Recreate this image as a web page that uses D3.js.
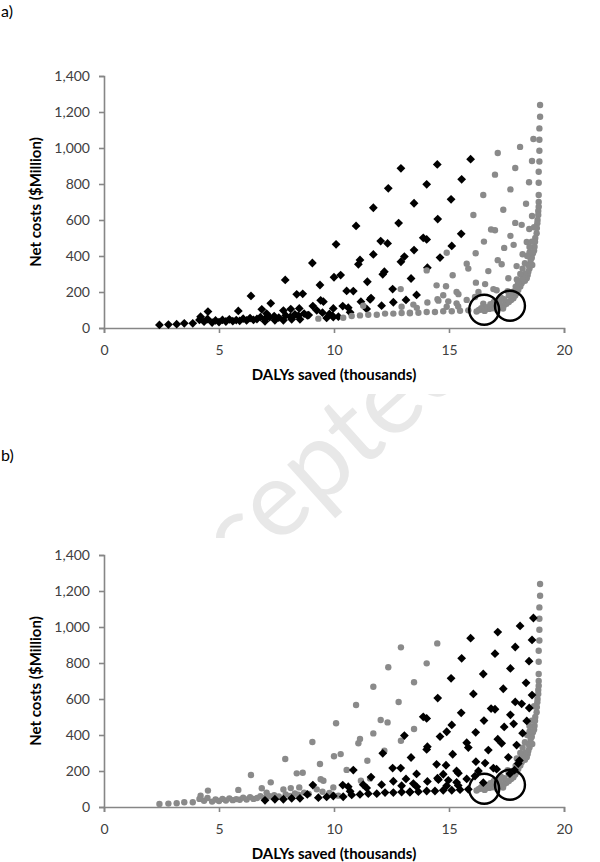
<!DOCTYPE html>
<html>
<head>
<meta charset="utf-8">
<script src="https://cdn.jsdelivr.net/npm/d3@7"></script>
<style>
  body { margin: 0; background: #fff; }
  svg { display: block; }
</style>
</head>
<body>
<svg id="chart" width="600" height="862"></svg>
<script>
const xTicks = [0, 5, 10, 15, 20];
const yTicks = [0, 200, 400, 600, 800, 1000, 1200, 1400];

// black in (a), grey in (b)
const groupL = [
  [12.91,887],[14.49,909],[12.36,776],[14.03,798],[11.71,668],[13.48,693],[10.96,567],[12.81,583],
  [10.09,465],[12.03,483],[12.33,470],[13.48,433],[11.71,409],[12.91,368],[11.13,378],[11.06,354],
  [9.06,361],[12.19,313],[10.0,282],[10.29,294],[11.45,257],[7.88,267],[9.39,239],[10.55,206],
  [8.64,190],[8.38,187],[6.39,178],[11.57,159],[11.17,146],[9.42,154],[9.54,146],[7.25,137],
  [6.86,104],[8.49,109],[8.12,105],[7.8,97],[9.97,109],[9.25,98],[7.07,80],[5.84,95],[4.52,91],
  [4.2,63],[9.94,67],[10.19,63],
  [2.41,17],[2.8,19],[3.16,21],[3.49,26],[3.86,26],
  [4.15,45],[4.35,35],[4.5,50],[4.7,30],[4.85,42],[5.0,33],[5.15,45],[5.3,36],[5.45,48],[5.6,38],
  [5.75,44],[5.9,40],[6.05,52],[6.2,42],[6.35,55],[6.5,45],[6.65,50],[6.8,60],[7.0,52],[7.2,60],
  [7.4,66],[7.6,58],[7.9,70],[8.1,62],[8.3,75],[8.45,68],[8.7,80],[8.9,72],[9.5,85],[9.8,78]
];

// black in both panels
const groupM = [
  [15.94,938],[15.55,826],[15.09,715],[14.51,605],[15.53,523],[13.88,501],[14.03,492],[15.12,456],
  [14.61,391],[13.06,397],[14.06,335],[12.12,298],[13.35,275],[12.55,216],[10.84,205],[13.59,184],
  [13.13,156],[12.58,143],[11.61,166],[12.07,124],[10.38,122],[10.62,113],[11.42,106],[9.08,122],
  [10.7,87],[7.0,37],[7.43,43],[7.8,43],[8.16,48],[8.52,48],[8.84,70],[9.68,56],[9.97,61]
];

// grey in (a), black in (b)
const groupR = [
  [17.12,972],[18.09,1006],[18.67,1050],[17.0,852],[17.88,889],[18.61,928],[16.49,739],[17.67,770],
  [18.48,810],[16.06,628],[17.36,657],[18.35,690],[14.9,418],[16.16,415],[16.83,547],[17.0,543],
  [17.88,584],[18.16,573],[18.61,622],[16.52,480],[17.4,445],[17.67,512],[17.81,462],[18.49,550],
  [18.38,478],[18.2,410],[15.77,357],[15.84,330],[17.12,377],[17.29,354],[17.94,344],[16.71,316],
  [14.03,320],[15.16,293],[17.58,276],[16.17,252],[16.57,244],[14.46,237],[14.87,232],[18.01,241],
  [18.06,258],[15.33,200],[15.41,188],[16.93,216],[17.07,210],[16.28,200],[16.13,172],[17.65,185],
  [17.85,205],[14.5,160],[14.75,182],[16.49,135],[12.9,216],[11.27,124],[12.94,118],[13.3,82],
  [13.45,130],[14.06,142],[14.54,152],[14.97,148],[15.77,156],[15.33,137],
  [9.32,52],[10.4,57],[10.77,67],[11.13,70],[11.49,74],[11.86,74],[12.22,80],[12.58,80],[12.94,83],
  [13.3,85],[13.67,85],[14.03,89],[14.39,89],[14.75,93],[15.12,93],[15.48,96],[15.84,98],
  [13.6,112],[14.9,118],[15.4,120]
];

// grey in both panels
const groupE = [
  [18.96,1239],[18.96,1174],[18.93,1109],[18.93,1046],[18.93,985],[18.93,925],[18.9,868],[18.9,807],
  [18.9,739],[18.9,700],[18.9,674],[18.88,650],[18.88,628],[18.85,600],[18.84,582],[18.82,555],
  [18.81,526],[18.75,500],[18.74,479],[18.72,452],[18.7,430],[18.65,415],[18.6,390],[18.55,378],
  [18.62,350],[18.5,330],[18.45,313],[18.42,295],[18.38,276],[18.3,262],[18.16,248],[18.1,230],
  [18.01,211],[17.95,195],[17.88,180],[17.8,165],[17.7,155],[17.6,145],[17.5,135],[17.4,128],
  [17.3,122],[17.2,118],[17.05,112],[16.9,110],[16.75,106],[16.6,104],[16.45,102],[16.3,100],
  [18.7,560],[18.6,480],[18.5,420],[18.45,350],[18.3,300],[18.2,280],[18.0,250],[17.9,230],
  [17.75,200],[17.6,180],[17.4,160],[17.2,145],[17.0,130],[16.8,122],[16.6,115],[16.4,110],
  [18.5,450],[18.4,400],[18.3,360],[18.2,330],[18.1,300],[17.95,270],[17.55,205],[17.25,170],
  [16.95,145],[16.8,132],[17.1,100],[17.35,108],[16.55,95],[16.2,92]
];

// the two circled options
const circled = [[16.53,101],[17.65,124]];

const svg = d3.select('#chart');

// faint watermark, mostly hidden behind the two chart areas
svg.append('text')
  .attr('transform', 'translate(285,484) rotate(-42)')
  .attr('text-anchor', 'middle')
  .attr('dominant-baseline', 'central')
  .attr('font-family', 'Lato, sans-serif')
  .attr('font-size', 106)
  .attr('fill', '#e8e8e8')
  .text('Accepted');

svg.append('rect').attr('x', 18).attr('y', 28).attr('width', 575).attr('height', 366).attr('fill', '#fff');
svg.append('rect').attr('x', 18).attr('y', 538).attr('width', 575).attr('height', 324).attr('fill', '#fff');

const diamond = 'M0,-4.4L4.4,0L0,4.4L-4.4,0Z';

function drawPanel(top, label, labelY, blackPts, greyPts, greyOnTop) {
  const x = d3.scaleLinear().domain([0, 20]).range([104, 564]);
  const y = d3.scaleLinear().domain([0, 1400]).range([top + 252, top]);
  const g = svg.append('g');

  svg.append('text').attr('x', 1).attr('y', labelY)
    .attr('font-family', 'Lato, sans-serif').attr('font-size', 16).attr('fill', '#000')
    .text(label);

  const yAxis = g.append('g').attr('transform', 'translate(104,0)')
    .call(d3.axisLeft(y).tickValues(yTicks).tickFormat(d3.format(',')).tickSize(5).tickPadding(9));
  const xAxis = g.append('g').attr('transform', 'translate(0,' + (top + 252) + ')')
    .call(d3.axisBottom(x).tickValues(xTicks).tickSize(5).tickPadding(12));
  [yAxis, xAxis].forEach(a => {
    a.select('.domain').attr('stroke', '#868686').attr('stroke-width', 1.6);
    a.selectAll('.tick line').attr('stroke', '#868686').attr('stroke-width', 1.6);
    a.selectAll('.tick text').attr('fill', '#404040')
      .attr('font-family', 'Lato, sans-serif').attr('font-size', 14);
  });

  g.append('text')
    .attr('transform', 'translate(41,' + (top + 126) + ') rotate(-90)')
    .attr('text-anchor', 'middle')
    .attr('font-family', 'Lato, sans-serif').attr('font-weight', 'bold').attr('font-size', 15)
    .attr('fill', '#000')
    .text('Net costs ($Million)');

  g.append('text')
    .attr('x', 334).attr('y', top + 304)
    .attr('text-anchor', 'middle')
    .attr('font-family', 'Lato, sans-serif').attr('font-weight', 'bold').attr('font-size', 15)
    .attr('fill', '#000')
    .text('DALYs saved (thousands)');

  function drawGrey() {
    g.append('g').selectAll('circle').data(greyPts).join('circle')
      .attr('cx', d => x(d[0])).attr('cy', d => y(d[1])).attr('r', 3.2)
      .attr('fill', '#8a8a8a');
  }
  function drawBlack() {
    g.append('g').selectAll('path').data(blackPts).join('path')
      .attr('transform', d => 'translate(' + x(d[0]) + ',' + y(d[1]) + ')')
      .attr('d', diamond).attr('fill', '#000');
  }
  if (greyOnTop) { drawBlack(); drawGrey(); } else { drawGrey(); drawBlack(); }

  g.append('g').selectAll('circle').data(circled).join('circle')
    .attr('cx', d => x(d[0])).attr('cy', d => y(d[1])).attr('r', 15)
    .attr('fill', 'none').attr('stroke', '#000').attr('stroke-width', 2.4);
}

drawPanel(76, 'a)', 17, groupL.concat(groupM), groupR.concat(groupE), true);
drawPanel(555, 'b)', 461, groupM.concat(groupR), groupL.concat(groupE), false);
</script>
</body>
</html>
